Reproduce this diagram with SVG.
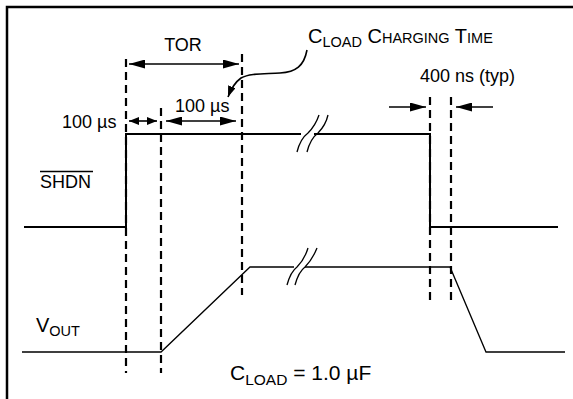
<svg xmlns="http://www.w3.org/2000/svg" width="573" height="399" viewBox="0 0 573 399">
<style>
text{font-family:"Liberation Sans",Arial,sans-serif;font-size:18px;fill:#000}
.big{font-size:20px}
.sub{font-size:14.5px}
.sig{fill:none;stroke:#000;stroke-width:2}
.vout{fill:none;stroke:#000;stroke-width:1.3}
.dash{fill:none;stroke:#000;stroke-width:2.2;stroke-dasharray:8 5}
.dim{fill:none;stroke:#000;stroke-width:1.6}
.brk{fill:none;stroke:#000;stroke-width:1.3}
</style>
<defs>
<marker id="ah" markerUnits="userSpaceOnUse" markerWidth="17" markerHeight="9" refX="16" refY="4.5" orient="auto-start-reverse"><path d="M0,0 L16,4.5 L0,9 z" fill="#000"/></marker>
<marker id="as" markerUnits="userSpaceOnUse" markerWidth="11" markerHeight="8" refX="10" refY="4" orient="auto-start-reverse"><path d="M0,0 L10,4 L0,8 z" fill="#000"/></marker>
<marker id="ac" markerUnits="userSpaceOnUse" markerWidth="12" markerHeight="8" refX="11" refY="4" orient="auto"><path d="M0,0 L11,4 L0,8 z" fill="#000"/></marker>
</defs>
<path d="M7,399 V7 H573" fill="none" stroke="#000" stroke-width="2.5"/>
<g id="connectors">
<path class="dash" d="M126,59 V373"/>
<path class="dash" d="M161,108 V373"/>
<path class="dash" d="M242,54 V295"/>
<path class="dash" d="M430,97 V303"/>
<path class="dash" d="M451,97 V303"/>
<path class="dim" d="M129,64 H239" marker-start="url(#ah)" marker-end="url(#ah)"/>
<path class="dim" d="M129,121 H157" marker-start="url(#as)" marker-end="url(#as)"/>
<path class="dim" d="M166,121 H236" marker-start="url(#ah)" marker-end="url(#ah)"/>
<path class="dim" d="M389,107 H426" marker-end="url(#ah)"/>
<path class="dim" d="M493,107 H456" marker-end="url(#ah)"/>
<path class="dim" d="M307,50 C304,66 296,72 280,73 C264,74 250,73 241,78 C234,83 231,89 228,97" marker-end="url(#ac)"/>
</g>
<g id="shdn">
<path class="sig" d="M24,227 H126 V134 H301 M314,134 H430 V227 H558"/>
<path class="brk" d="M297,152 C300,140 304,136 308,133 C312,129 316,124 319,115"/>
<path class="brk" d="M307,152 C310,140 314,136 318,133 C322,129 326,124 328,115"/>
<text x="40" y="188">SHDN</text>
<path d="M40,171.5 H93" stroke="#000" stroke-width="1.5"/>
</g>
<g id="vout">
<path class="vout" d="M22,352 H161 L250,267 H294 M305,267 H450 L486,352 H565"/>
<path class="brk" d="M287,285 C290,274 293,270 297,267 C301,263 305,258 308,248"/>
<path class="brk" d="M295,285 C298,274 301,270 305,267 C309,263 313,258 317,248"/>
<text class="big" x="36" y="332">V<tspan class="sub" dy="4">OUT</tspan></text>
</g>
<g id="labels">
<text x="183" y="51" text-anchor="middle">TOR</text>
<text x="62" y="128">100 µs</text>
<text x="175" y="112">100 µs</text>
<text class="big" x="308" y="43">C<tspan class="sub" dy="4">LOAD</tspan><tspan dy="-4"> C</tspan><tspan class="sub">HARGING</tspan> T<tspan class="sub">IME</tspan></text>
<text x="420" y="82">400 ns (typ)</text>
<text x="230" y="380" style="font-size:21px">C<tspan style="font-size:15.5px" dy="5">LOAD</tspan><tspan dy="-5"> = 1.0 µF</tspan></text>
</g>
</svg>
